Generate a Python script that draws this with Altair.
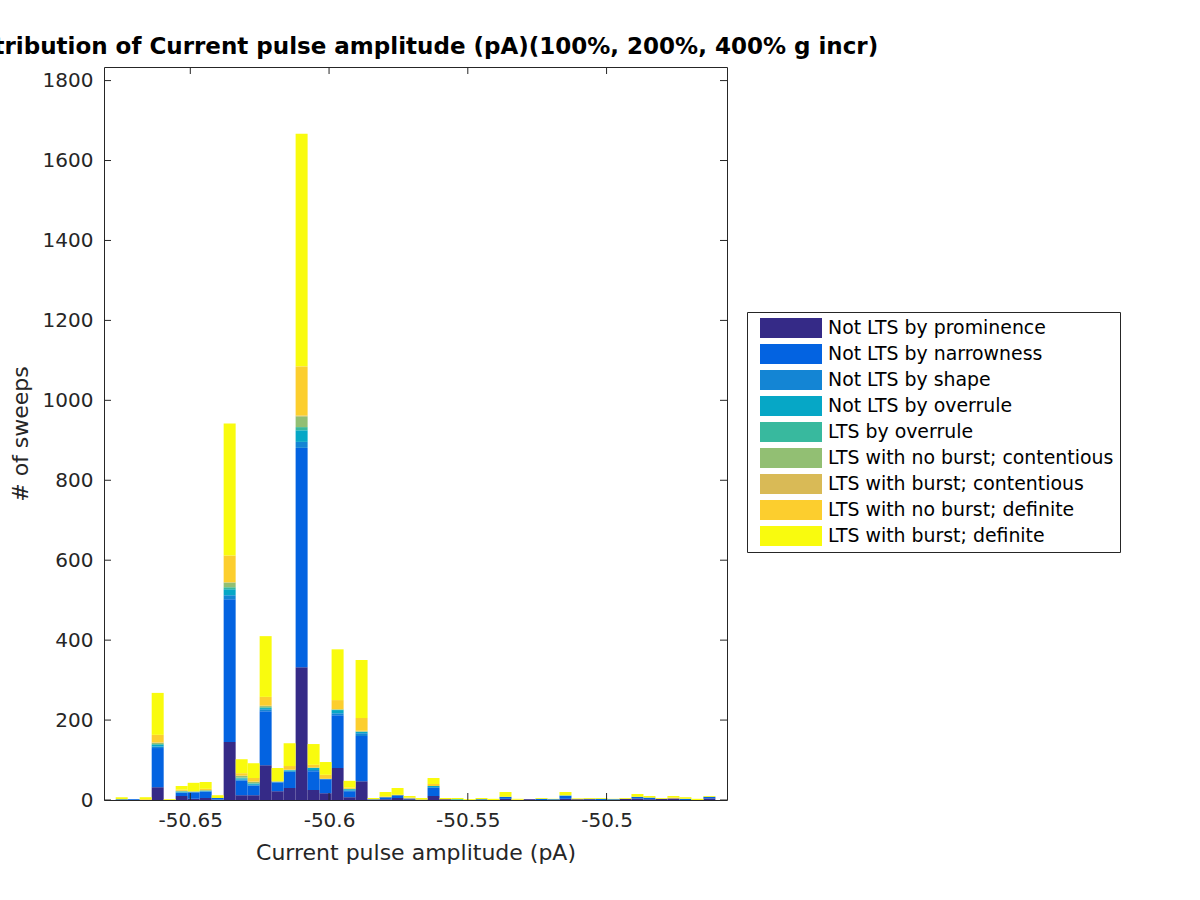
import altair as alt
import pandas as pd

categories = [
    "Not LTS by prominence",
    "Not LTS by narrowness",
    "Not LTS by shape",
    "Not LTS by overrule",
    "LTS by overrule",
    "LTS with no burst; contentious",
    "LTS with burst; contentious",
    "LTS with no burst; definite",
    "LTS with burst; definite",
]
colors = ["#352A87", "#0363E1", "#1485D4", "#06A7C6", "#38B99E",
          "#92BF73", "#D9BA56", "#FCCE2E", "#F9FB0E"]

# histogram bins (50 bins)
first_edge = -50.67688
bin_width = 0.004322
n_bins = 50

prominence = [0, 0, 0, 32, 0, 10, 3, 5, 1, 145, 12, 12, 87, 22, 30, 332, 25, 17, 80, 7,
              47, 1, 2, 5, 2, 1, 10, 2, 0, 0, 0, 0, 3, 0, 2, 0, 0, 3, 2, 2,
              0, 0, 3, 4, 2, 3, 4, 0, 0, 4]
narrowness = [2, 2, 0, 98, 0, 8, 16, 16, 4, 357, 37, 24, 135, 22, 40, 549, 47, 35, 132, 15,
              113, 1, 5, 7, 2, 0, 20, 0, 0, 0, 2, 0, 5, 0, 0, 3, 2, 7, 0, 1,
              3, 2, 0, 4, 4, 0, 0, 3, 0, 4]
shape = [0, 0, 0, 4, 0, 1, 1, 1, 0, 10, 2, 2, 5, 1, 2, 15, 3, 1, 5, 2,
         7, 0, 0, 0, 0, 0, 2, 0, 0, 0, 0, 0, 0, 0, 0, 0, 0, 0, 0, 0,
         0, 0, 0, 0, 0, 0, 0, 0, 0, 0]
not_overrule = [0, 0, 0, 4, 0, 2, 1, 2, 0, 15, 3, 3, 3, 1, 2, 29, 5, 0, 8, 3,
                3, 0, 0, 0, 0, 0, 3, 0, 2, 0, 0, 0, 0, 0, 0, 0, 0, 1, 0, 0,
                0, 0, 0, 0, 0, 0, 0, 0, 0, 0]
lts_overrule = [0, 0, 0, 2, 0, 1, 0, 0, 0, 5, 2, 1, 2, 0, 1, 8, 1, 0, 1, 1,
                1, 0, 0, 0, 0, 0, 0, 0, 0, 0, 0, 0, 0, 0, 0, 0, 0, 0, 0, 0,
                0, 0, 0, 0, 0, 0, 0, 0, 0, 0]
nb_contentious = [0, 0, 0, 3, 0, 1, 0, 0, 0, 12, 4, 3, 3, 0, 0, 27, 0, 0, 1, 0,
                  1, 0, 0, 0, 0, 0, 0, 0, 0, 0, 0, 0, 0, 0, 0, 0, 0, 1, 0, 0,
                  0, 0, 0, 0, 0, 0, 0, 0, 0, 0]
b_contentious = [0, 0, 0, 1, 0, 0, 0, 0, 0, 1, 1, 1, 1, 0, 1, 2, 0, 0, 0, 0,
                 1, 0, 0, 0, 0, 0, 0, 0, 0, 0, 0, 0, 0, 0, 0, 0, 0, 0, 0, 0,
                 0, 0, 0, 0, 0, 0, 0, 0, 0, 0]
nb_definite = [0, 0, 2, 19, 0, 3, 1, 4, 0, 67, 6, 9, 22, 1, 9, 123, 7, 10, 23, 3,
               32, 0, 2, 1, 2, 0, 5, 0, 0, 0, 0, 0, 0, 1, 0, 0, 0, 0, 0, 0,
               0, 0, 0, 0, 0, 0, 2, 0, 0, 0]
b_definite = [5, 0, 5, 105, 2, 9, 21, 17, 7, 330, 35, 37, 152, 33, 57, 582, 52, 32, 127, 17,
              145, 3, 11, 17, 4, 4, 15, 3, 3, 2, 3, 3, 12, 2, 0, 2, 1, 8, 2, 2,
              2, 1, 2, 7, 4, 2, 4, 4, 3, 2]

series = [prominence, narrowness, shape, not_overrule, lts_overrule,
          nb_contentious, b_contentious, nb_definite, b_definite]

x_ticks = [-50.65, -50.6, -50.55, -50.5]
y_ticks = [0, 200, 400, 600, 800, 1000, 1200, 1400, 1600, 1800]

rows = []
for ci, (cat, vals) in enumerate(zip(categories, series)):
    for bi, v in enumerate(vals):
        lo = first_edge + bi * bin_width
        rows.append({"x0": lo, "x1": lo + bin_width, "count": v,
                     "category": cat, "order": ci})
df = pd.DataFrame(rows)

W, H = 623, 733
x_scale = alt.Scale(domain=[-50.6811, -50.4566], nice=False, zero=False)
y_scale = alt.Scale(domain=[0, 1834], nice=False)

x_axis = alt.Axis(values=x_ticks, title="Current pulse amplitude (pA)",
                  labelExpr="replace(format(datum.value, '.2~f'), '\u2212', '-')")
y_axis = alt.Axis(values=y_ticks, title="# of sweeps", format="d")

sym_path = "M-3.1,-1H3.1V1H-3.1Z"

bars = alt.Chart(df).transform_stack(
    stack="count", groupby=["x0"], as_=["y0", "y1"],
    sort=[alt.SortField("order", order="ascending")],
).mark_rect().encode(
    x=alt.X("x0:Q", scale=x_scale, axis=x_axis),
    x2="x1:Q",
    y=alt.Y("y0:Q", scale=y_scale, axis=y_axis),
    y2="y1:Q",
    color=alt.Color("category:N",
                    scale=alt.Scale(domain=categories, range=colors),
                    sort=categories,
                    legend=alt.Legend(title=None, orient="none", legendX=643, legendY=245,
                                      symbolType=sym_path, symbolSize=400,
                                      symbolOffset=28, labelOffset=27,
                                      symbolStrokeWidth=0, rowPadding=6,
                                      padding=6, strokeColor="#262626",
                                      fillColor="white",
                                      labelFontSize=18.9, labelFont="DejaVu Sans",
                                      labelColor="black", labelLimit=400)),
)

xt_df = pd.DataFrame({"v": x_ticks})
yt_df = pd.DataFrame({"v": y_ticks})
tick_color = "#262626"

xt_bottom = alt.Chart(xt_df).mark_rule(color=tick_color).encode(
    x=alt.X("v:Q", scale=x_scale, axis=x_axis), y=alt.value(H), y2=alt.value(H - 7))
xt_top = alt.Chart(xt_df).mark_rule(color=tick_color).encode(
    x=alt.X("v:Q", scale=x_scale, axis=x_axis), y=alt.value(0), y2=alt.value(7))
yt_left = alt.Chart(yt_df).mark_rule(color=tick_color).encode(
    y=alt.Y("v:Q", scale=y_scale, axis=y_axis), x=alt.value(0), x2=alt.value(7))
yt_right = alt.Chart(yt_df).mark_rule(color=tick_color).encode(
    y=alt.Y("v:Q", scale=y_scale, axis=y_axis), x=alt.value(W), x2=alt.value(W - 7))

chart = alt.layer(bars, xt_bottom, xt_top, yt_left, yt_right).properties(
    width=W, height=H,
    autosize=alt.AutoSizeParams(type="none"),
    padding={"left": 104, "top": 67, "right": 473, "bottom": 100},
    title=alt.TitleParams(
        text="Distribution of Current pulse amplitude (pA)(100%, 200%, 400% g incr)",
        anchor="middle", frame="group", fontSize=23, fontWeight="bold",
        font="DejaVu Sans", color="black", offset=8),
).configure_view(
    stroke=tick_color, strokeWidth=1
).configure_axis(
    grid=False, domain=False, ticks=False,
    labelFont="DejaVu Sans", labelFontSize=20, labelColor=tick_color,
    titleFont="DejaVu Sans", titleFontSize=22, titleColor=tick_color,
    titleFontWeight="normal",
).configure_axisX(labelPadding=10, titlePadding=12).configure_axisY(labelPadding=11, titlePadding=10)

chart.save("out.html", embed_options={"renderer": "svg", "actions": False})
